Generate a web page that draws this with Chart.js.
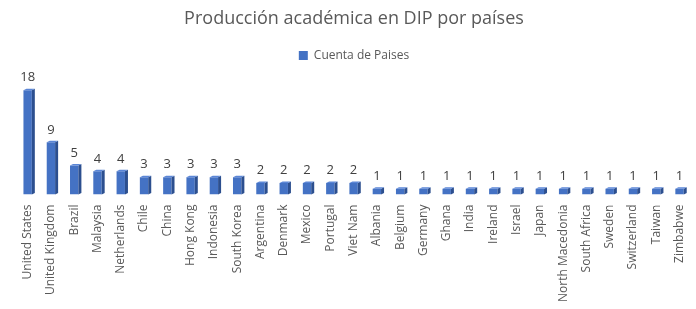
<!DOCTYPE html>
<html>
<head>
<meta charset="utf-8">
<script src="https://cdn.jsdelivr.net/npm/chart.js@4"></script>
<style>
  body { margin: 0; background: #fff; }
  #wrap { width: 696px; height: 309px; }
</style>
</head>
<body>
<div id="wrap"><canvas id="paises"></canvas></div>
<script>
// Produccion academica en DIP por paises
var countries = ['United States', 'United Kingdom', 'Brazil', 'Malaysia', 'Netherlands', 'Chile', 'China',
  'Hong Kong', 'Indonesia', 'South Korea', 'Argentina', 'Denmark', 'Mexico', 'Portugal', 'Viet Nam',
  'Albania', 'Belgium', 'Germany', 'Ghana', 'India', 'Ireland', 'Israel', 'Japan', 'North Macedonia',
  'South Africa', 'Sweden', 'Switzerland', 'Taiwan', 'Zimbabwe'];
var counts = [18, 9, 5, 4, 4, 3, 3, 3, 3, 3, 2, 2, 2, 2, 2, 1, 1, 1, 1, 1, 1, 1, 1, 1, 1, 1, 1, 1, 1];

var font = "'Open Sans', 'Noto Sans', sans-serif";

// fake 3d side + value on top
var bars3d = {
  id: 'bars3d',
  afterDatasetsDraw: function(chart) {
    var ctx = chart.ctx;
    var meta = chart.getDatasetMeta(0);
    ctx.save();
    meta.data.forEach(function(bar, i) {
      var half = bar.width / 2;
      var d = 3;
      ctx.fillStyle = '#2c4f8f';
      ctx.beginPath();
      ctx.moveTo(bar.x + half, bar.base);
      ctx.lineTo(bar.x + half, bar.y);
      ctx.lineTo(bar.x + half + d, bar.y - 1.5);
      ctx.lineTo(bar.x + half + d, bar.base - 1.5);
      ctx.closePath();
      ctx.fill();
      ctx.fillStyle = '#5b86d6';
      ctx.beginPath();
      ctx.moveTo(bar.x - half, bar.y);
      ctx.lineTo(bar.x + half, bar.y);
      ctx.lineTo(bar.x + half + d, bar.y - 1.5);
      ctx.lineTo(bar.x - half + d, bar.y - 1.5);
      ctx.closePath();
      ctx.fill();

      ctx.fillStyle = '#404040';
      ctx.font = '13px ' + font;
      ctx.textAlign = 'center';
      ctx.textBaseline = 'bottom';
      ctx.fillText(counts[i], bar.x, bar.y - 6);
    });
    ctx.restore();
  }
};

var c = document.getElementById('paises').getContext('2d');
var chart = new Chart(c, {
  type: 'bar',
  data: {
    labels: countries,
    datasets: [{
      label: 'Cuenta de Paises',
      data: counts,
      backgroundColor: '#4472c4',
      borderWidth: 0,
      barPercentage: 0.36,
      categoryPercentage: 1
    }]
  },
  options: {
    responsive: true,
    maintainAspectRatio: false,
    animation: false,
    layout: { padding: { left: 16, right: 4, top: 4, bottom: 5 } },
    plugins: {
      title: {
        display: true,
        text: 'Producción académica en DIP por países',
        color: '#595959',
        font: { family: font, size: 18, weight: 'normal' },
        padding: { top: 4, bottom: 12 }
      },
      legend: {
        display: true,
        labels: {
          color: '#595959',
          font: { family: font, size: 12 },
          boxWidth: 9,
          boxHeight: 9,
          padding: 8
        }
      },
      tooltip: { enabled: false }
    },
    scales: {
      x: {
        grid: { display: false },
        border: { display: false },
        ticks: {
          color: '#595959',
          font: { family: font, size: 12 },
          minRotation: 90,
          maxRotation: 90,
          autoSkip: false,
          padding: 2
        }
      },
      y: {
        display: false,
        min: 0,
        max: 21.2
      }
    }
  },
  plugins: [bars3d]
});
</script>
</body>
</html>
